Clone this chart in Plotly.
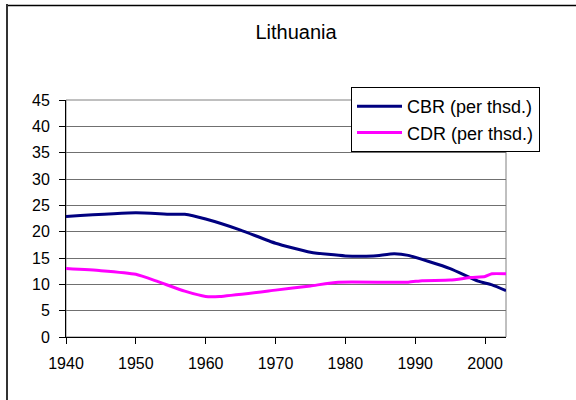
import plotly.graph_objects as go

cbr_years = [1940, 1950, 1955, 1957, 1960, 1965, 1970, 1975, 1980, 1984, 1987, 1989, 1995, 1999, 2001, 2003]
cbr_values = [22.9, 23.6, 23.3, 23.3, 22.4, 20.3, 17.8, 16.1, 15.4, 15.4, 15.8, 15.5, 13.0, 10.6, 9.9, 8.8]

cdr_years = [1940, 1945, 1950, 1953, 1957, 1960, 1962, 1970, 1975, 1979, 1989, 1991, 1995, 1998, 2000, 2001, 2003]
cdr_values = [13.0, 12.6, 11.9, 10.6, 8.7, 7.7, 7.7, 8.9, 9.7, 10.4, 10.4, 10.7, 10.8, 11.3, 11.5, 12.0, 12.0]

title_text = "Lithuania"
cbr_name = "CBR (per thsd.)"
cdr_name = "CDR (per thsd.)"

W, H = 576, 400
L, R, T, B = 66, 70, 100, 63
pw, ph = W - L - R, H - T - B

def px_x(v):
    return (v - L) / pw

def px_y(v):
    return (H - B - v) / ph

font_family = "Liberation Sans, Arial, sans-serif"

fig = go.Figure()
fig.add_trace(go.Scatter(x=cbr_years, y=cbr_values, mode="lines", name=cbr_name,
                         line=dict(color="#000080", width=3, shape="spline", smoothing=0.5)))
fig.add_trace(go.Scatter(x=cdr_years, y=cdr_values, mode="lines", name=cdr_name,
                         line=dict(color="#FF00FF", width=3, shape="spline", smoothing=0.5)))

fig.update_layout(
    width=W, height=H,
    margin=dict(l=L, r=R, t=T, b=B),
    paper_bgcolor="white", plot_bgcolor="white",
    font=dict(family=font_family, size=16, color="black"),
    title=dict(text=title_text, x=296 / W, xanchor="center", y=1 - 32 / H, yanchor="middle",
               font=dict(size=20, family=font_family, color="black")),
    showlegend=True,
    legend=dict(x=px_x(351), y=px_y(87), xanchor="left", yanchor="top",
                bgcolor="white", bordercolor="black", borderwidth=1,
                font=dict(size=18, family=font_family), itemwidth=45,
                tracegroupgap=0),
    xaxis=dict(range=[1940, 2003], tickmode="linear", tick0=1940, dtick=10,
               showgrid=False, zeroline=False, showline=True, linecolor="black", linewidth=1,
               ticks="outside", ticklen=6, tickcolor="black", tickfont=dict(size=16),
               ticklabelstandoff=6),
    yaxis=dict(range=[0, 45], tickmode="linear", tick0=0, dtick=5,
               showgrid=True, gridcolor="#707070", gridwidth=1, zeroline=False,
               showline=True, linecolor="black", linewidth=1,
               ticks="outside", ticklen=6, tickcolor="black", tickfont=dict(size=16),
               ticklabelstandoff=6),
    shapes=[
        dict(type="rect", xref="paper", yref="paper", x0=0, y0=0, x1=1, y1=1,
             line=dict(color="#808080", width=1), layer="below"),
        dict(type="rect", xref="paper", yref="paper", x0=px_x(7), y0=px_y(5.5), x1=px_x(W + 20), y1=px_y(H + 20),
             line=dict(color="black", width=1.5), fillcolor="rgba(0,0,0,0)", layer="above"),
        dict(type="line", xref="paper", yref="paper", x0=px_x(7), y0=px_y(4), x1=px_x(7), y1=px_y(H + 5),
             line=dict(color="#333333", width=2)),
    ],
)

fig.write_html("out.html", config={"displayModeBar": False},
               post_script="document.body.style.margin='0';document.body.style.overflow='hidden';")
